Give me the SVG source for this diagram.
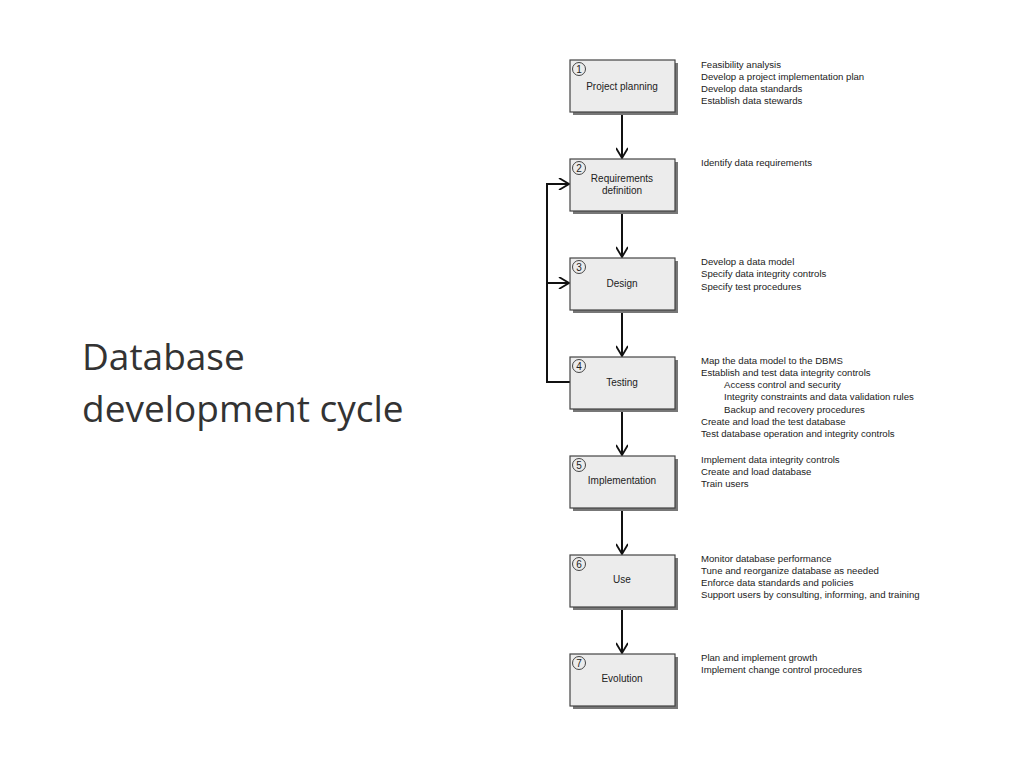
<svg xmlns="http://www.w3.org/2000/svg" width="1024" height="768" viewBox="0 0 1024 768">
<style>
.box{fill:#ececec;stroke:#444;stroke-width:1.2}
.sh{fill:#777}
.lbl{font-family:"Liberation Sans",Arial,sans-serif;font-size:10px;fill:#222;text-anchor:middle}
.num{font-family:"Liberation Sans",Arial,sans-serif;font-size:10px;fill:#222;text-anchor:middle}
.circ{fill:none;stroke:#333;stroke-width:0.9}
.t{font-family:"Liberation Sans",Arial,sans-serif;font-size:9.6px;fill:#222}
.ln{fill:none;stroke:#111;stroke-width:2}
.title{font-family:"Open Sans","Liberation Sans",sans-serif;font-size:37px;fill:#333}
</style>
<defs>
<marker id="ar" viewBox="0 0 10 10" refX="9" refY="5" markerWidth="6" markerHeight="6" orient="auto" markerUnits="userSpaceOnUse">
<path d="M0,0 L9,5 L0,10" fill="none" stroke="#111" stroke-width="1.6"/>
</marker>
<marker id="ar2" viewBox="0 0 12 12" refX="11" refY="6" markerWidth="12" markerHeight="12" orient="auto" markerUnits="userSpaceOnUse">
<path d="M1,0 L11,6 L1,12" fill="none" stroke="#111" stroke-width="1.8"/>
</marker>
</defs>
<rect width="1024" height="768" fill="#fff"/>
<text class="title" x="82" y="370">Database</text>
<text class="title" x="82" y="422">development cycle</text>
<g id="connectors">
<path class="ln" d="M622,112 V158" marker-end="url(#ar2)"/>
<path class="ln" d="M622,211 V257" marker-end="url(#ar2)"/>
<path class="ln" d="M622,310 V356" marker-end="url(#ar2)"/>
<path class="ln" d="M622,409 V455" marker-end="url(#ar2)"/>
<path class="ln" d="M622,508 V554" marker-end="url(#ar2)"/>
<path class="ln" d="M622,607 V653" marker-end="url(#ar2)"/>
<path class="ln" d="M570,382 H547 V184 H569" marker-end="url(#ar2)"/>
<path class="ln" d="M547,283 H569" marker-end="url(#ar2)"/>
</g>
<g id="n1"><rect class="sh" x="573" y="63" width="105" height="52"/><rect class="box" x="570" y="60" width="105" height="52"/><circle class="circ" cx="579" cy="69" r="6.5"/><text class="num" x="579" y="72.5">1</text><text class="lbl" x="622" y="90">Project planning</text></g>
<g id="n2"><rect class="sh" x="573" y="162" width="105" height="52"/><rect class="box" x="570" y="159" width="105" height="52"/><circle class="circ" cx="579" cy="168" r="6.5"/><text class="num" x="579" y="171.5">2</text><text class="lbl" x="622" y="182">Requirements</text><text class="lbl" x="622" y="194">definition</text></g>
<g id="n3"><rect class="sh" x="573" y="261" width="105" height="52"/><rect class="box" x="570" y="258" width="105" height="52"/><circle class="circ" cx="579" cy="267" r="6.5"/><text class="num" x="579" y="270.5">3</text><text class="lbl" x="622" y="287">Design</text></g>
<g id="n4"><rect class="sh" x="573" y="360" width="105" height="52"/><rect class="box" x="570" y="357" width="105" height="52"/><circle class="circ" cx="579" cy="366" r="6.5"/><text class="num" x="579" y="369.5">4</text><text class="lbl" x="622" y="386">Testing</text></g>
<g id="n5"><rect class="sh" x="573" y="459" width="105" height="52"/><rect class="box" x="570" y="456" width="105" height="52"/><circle class="circ" cx="579" cy="465" r="6.5"/><text class="num" x="579" y="468.5">5</text><text class="lbl" x="622" y="484">Implementation</text></g>
<g id="n6"><rect class="sh" x="573" y="558" width="105" height="52"/><rect class="box" x="570" y="555" width="105" height="52"/><circle class="circ" cx="579" cy="564" r="6.5"/><text class="num" x="579" y="567.5">6</text><text class="lbl" x="622" y="583">Use</text></g>
<g id="n7"><rect class="sh" x="573" y="657" width="105" height="52"/><rect class="box" x="570" y="654" width="105" height="52"/><circle class="circ" cx="579" cy="663" r="6.5"/><text class="num" x="579" y="666.5">7</text><text class="lbl" x="622" y="682">Evolution</text></g>
<g id="notes" class="t">
<text x="701" y="68">Feasibility analysis</text>
<text x="701" y="80">Develop a project implementation plan</text>
<text x="701" y="92">Develop data standards</text>
<text x="701" y="104">Establish data stewards</text>
<text x="701" y="166">Identify data requirements</text>
<text x="701" y="265">Develop a data model</text>
<text x="701" y="277">Specify data integrity controls</text>
<text x="701" y="290">Specify test procedures</text>
<text x="701" y="364">Map the data model to the DBMS</text>
<text x="701" y="376">Establish and test data integrity controls</text>
<text x="724" y="388">Access control and security</text>
<text x="724" y="400">Integrity constraints and data validation rules</text>
<text x="724" y="413">Backup and recovery procedures</text>
<text x="701" y="425">Create and load the test database</text>
<text x="701" y="437">Test database operation and integrity controls</text>
<text x="701" y="463">Implement data integrity controls</text>
<text x="701" y="475">Create and load database</text>
<text x="701" y="487">Train users</text>
<text x="701" y="562">Monitor database performance</text>
<text x="701" y="574">Tune and reorganize database as needed</text>
<text x="701" y="586">Enforce data standards and policies</text>
<text x="701" y="598">Support users by consulting, informing, and training</text>
<text x="701" y="661">Plan and implement growth</text>
<text x="701" y="673">Implement change control procedures</text>
</g>
</svg>
